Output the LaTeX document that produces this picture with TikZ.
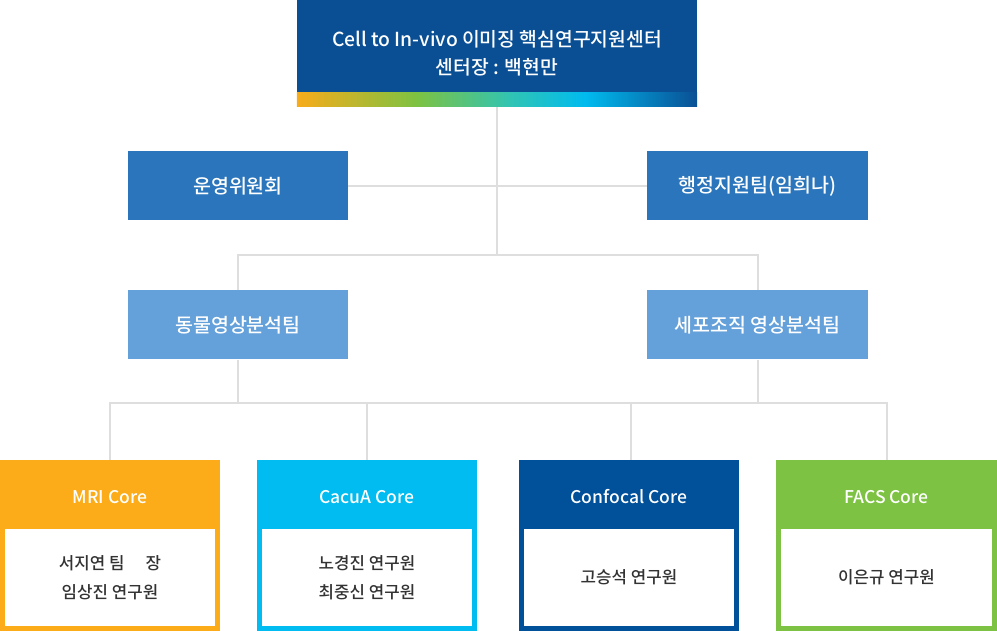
\documentclass[tikz,border=0pt]{standalone}
\usepackage{fontspec}
\setmainfont{Noto Sans CJK KR}[UprightFont=* Medium]
\definecolor{topC}{HTML}{0A4F94}
\definecolor{midC}{HTML}{2A75BB}
\definecolor{lowC}{HTML}{64A0D9}
\definecolor{mriC}{HTML}{FBAC18}
\definecolor{cacC}{HTML}{00BCF0}
\definecolor{conC}{HTML}{00509A}
\definecolor{facC}{HTML}{7DC242}
\definecolor{lineC}{HTML}{DEDEDE}
\definecolor{txtC}{HTML}{333333}
\definecolor{gOr}{HTML}{F7AC1B}
\definecolor{gGr}{HTML}{7DC242}
\definecolor{gTe}{HTML}{2EC4B6}
\definecolor{gCy}{HTML}{00BBEF}
\definecolor{gBl}{HTML}{0A4F94}
\pgfdeclarehorizontalshading{rainbowbar}{100bp}{color(0bp)=(gOr); color(25bp)=(gOr); color(40bp)=(gGr); color(52bp)=(gTe); color(61bp)=(gCy); color(75bp)=(gBl); color(100bp)=(gBl)}
\begin{document}
\begin{tikzpicture}[x=1pt,y=-1pt,
  box/.style={draw=none, inner sep=0pt, text=white, align=center},
  tierbox/.style={box, minimum width=220pt, minimum height=69pt, font=\fontsize{19.5}{22}\selectfont},
  coreouter/.style={box, minimum width=220pt, minimum height=171pt},
  corehead/.style={box, font=\fontsize{17.5}{20}\selectfont},
  corebody/.style={draw=none, inner sep=0pt, fill=white, text=txtC, align=center, minimum width=210pt, minimum height=97pt, font=\fontsize{16.8}{29}\selectfont},
  link/.style={draw=lineC, line width=2pt}]
\useasboundingbox (0,0) rectangle (997,631);

% top
\node[box, fill=topC, minimum width=400pt, minimum height=106.5pt, font=\fontsize{19.3}{28}\selectfont] (top) at (497,53.25) {Cell to In-vivo 이미징 핵심연구지원센터\\센터장 : 백현만};
\shade[shading=rainbowbar] ([yshift=14.5pt]top.south west) rectangle (top.south east);

% junctions
\coordinate (j1) at (497,255);
\coordinate (j2) at (238,403);

\node[tierbox, fill=midC] (ops) at (238,186) {운영위원회};
\node[tierbox, fill=midC, minimum width=221pt] (adm) at (757.5,186) {행정지원팀(임희나)};
\node[tierbox, fill=lowC] (anim) at (238,325) {동물영상분석팀};
\node[tierbox, fill=lowC, minimum width=221pt] (cell) at (757.5,325) {세포조직 영상분석팀};

\node[coreouter, fill=mriC] (mri) at (110,545.5) {};
\node[coreouter, fill=cacC] (cac) at (367,545.5) {};
\node[coreouter, fill=conC] (con) at (629,545.5) {};
\node[coreouter, fill=facC, minimum width=221pt] (fac) at (886.5,545.5) {};

% connectors
\draw[link] (top.south) -- (j1);
\draw[link] (ops.east) -- (adm.west);
\draw[link] (anim.north) |- (j1) -| (cell.north);
\draw[link] (anim.south) -- (j2);
\draw[link] (mri.north) |- (j2) -| (fac.north);
\draw[link] (cac.north) -- (cac.north |- j2);
\draw[link] ([xshift=2pt]con.north) -- ([xshift=2pt]con.north |- j2);
\draw[link] (cell.south) -- (cell.south |- j2);

% core headers
\node[corehead] (mriH) at (110,497) {MRI Core};
\node[corehead] (cacH) at (367,497) {CacuA Core};
\node[corehead] (conH) at (629,497) {Confocal Core};
\node[corehead] (facH) at (886.5,497) {FACS Core};

% core bodies
\node[corebody] (mriB) at (110,577.5) {서지연 팀\hspace{1.25em}장\\임상진 연구원};
\node[corebody] (cacB) at (367,577.5) {노경진 연구원\\최중신 연구원};
\node[corebody] (conB) at (629,577.5) {고승석 연구원};
\node[corebody, minimum width=211pt] (facB) at (886.5,577.5) {이은규 연구원};
\end{tikzpicture}
\end{document}
